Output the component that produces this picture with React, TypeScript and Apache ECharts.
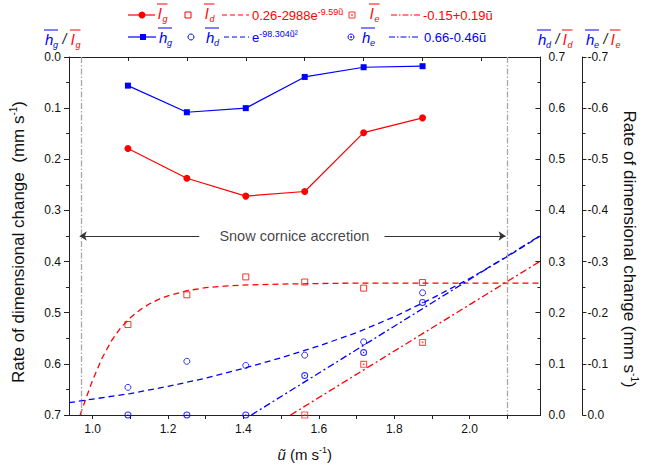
import React, { useEffect, useRef } from 'react';
import * as echarts from 'echarts';

// ---------- data ----------
const uValues = [1.09375, 1.25, 1.40625, 1.5625, 1.71875, 1.875];
const lgValues = [0.179, 0.237, 0.272, 0.263, 0.148, 0.119];
const hgValues = [0.056, 0.108, 0.1, 0.039, 0.02, 0.018];
const ldValues = [0.177, 0.235, 0.27, 0.26, 0.248, 0.259];
const hdValues = [0.054, 0.105, 0.097, 0.117, 0.143, 0.239];
const leU = [1.5625, 1.71875, 1.875];
const leValues = [0, -0.099, -0.142];
const heValues = [0, 0, 0, -0.077, -0.122, -0.22];

const ldFitU = [0.967, 0.975, 1.0, 1.025, 1.05, 1.075, 1.1, 1.125, 1.15, 1.175, 1.2, 1.25, 1.3, 1.35, 1.4, 1.5, 1.6, 1.7, 2.1875];
const ldFitV = [0, 0.017, 0.068, 0.111, 0.145, 0.171, 0.19, 0.205, 0.217, 0.226, 0.233, 0.243, 0.249, 0.252, 0.254, 0.256, 0.257, 0.258, 0.258];
const hdFitU = [0.9375, 1.0, 1.1, 1.2, 1.3, 1.4, 1.5, 1.6, 1.7, 1.8, 1.9, 2.0, 2.1, 2.1875];
const hdFitV = [0.024, 0.031, 0.042, 0.056, 0.072, 0.091, 0.112, 0.135, 0.161, 0.192, 0.228, 0.267, 0.31, 0.35];
const leFitU = [1.525, 2.1875];
const leFitV = [0, -0.301];
const heFitU = [1.421, 2.1875];
const heFitV = [0, -0.351];

const corniceU = [0.966, 2.095];
const arrowY = 0.35;
const arrowLeft = [1.283, 0.966];
const arrowRight = [1.774, 2.095];
const annotationPos = [1.535, 0.35];
const annotationText = 'Snow cornice accretion';

const xTickValues = [1.0, 1.1, 1.2, 1.3, 1.4, 1.5, 1.6, 1.7, 1.8, 1.9, 2.0, 2.1];
const xLabelValues = [1.0, 1.2, 1.4, 1.6, 1.8, 2.0];

const ldFormula = '0.26-2988e{sup|-9.59ũ}';
const leFormula = '-0.15+0.19ũ';
const hdFormula = 'e{sup|-98.304ũ²}';
const heFormula = '0.66-0.46ũ';

// ---------- styles ----------
const FONT = '"Liberation Sans", Arial, Helvetica, sans-serif';
const RED = '#ff0000';
const BLUE = '#0000ff';
const AX = '#222222';
const SQ_DOT = 'path://M0,0H10V10H0Z M1.6,1.6V8.4H8.4V1.6Z M3.8,3.8H6.2V6.2H3.8Z';
const CI_DOT = 'path://M5,0A5,5 0 1,1 5,10A5,5 0 1,1 5,0Z M5,1.5A3.5,3.5 0 1,0 5,8.5A3.5,3.5 0 1,0 5,1.5Z M5,3.9A1.1,1.1 0 1,1 5,6.1A1.1,1.1 0 1,1 5,3.9Z';

const pairs = (xs: number[], ys: number[]) => xs.map((x, i) => [x, ys[i]]);
const fmt1 = (v: number) => (Math.abs(v) < 1e-9 ? '0.0' : v.toFixed(1));

function txt(x: number, y: number, text: string, color: string, size: number, italic = false, extra: any = {}) {
  return {
    type: 'text', x, y, silent: true,
    style: {
      text, fill: color, fontSize: size, fontFamily: FONT, fontStyle: italic ? 'italic' : 'normal',
      align: 'left', verticalAlign: 'middle', textAlign: 'left', textVerticalAlign: 'middle', ...extra,
    },
  };
}
function glyph(x: number, y: number, letter: string, sub: string, color: string) {
  const w = letter === 'h' ? 8 : 4.5;
  return [
    txt(x, y, letter, color, 15, true),
    txt(x + w, y + 6, sub, color, 9, true),
    { type: 'line', silent: true, shape: { x1: x - 1, y1: y - 9, x2: x + w + 5, y2: y - 9 }, style: { stroke: color, lineWidth: 1 } },
  ];
}
function hline(x1: number, x2: number, y: number, color: string, dash: any = null) {
  return { type: 'line', silent: true, shape: { x1, y1: y, x2, y2: y }, style: { stroke: color, lineWidth: 1.2, lineDash: dash } };
}
const richSup = { sup: { fontSize: 9, lineHeight: 9, verticalAlign: 'top' } };

function buildGraphic() {
  const r1 = 15;
  const r2 = 37;
  const els: any[] = [];
  // legend row 1
  els.push(hline(128, 155, r1, RED));
  els.push({ type: 'circle', silent: true, shape: { cx: 142, cy: r1, r: 3.5 }, style: { fill: RED } });
  els.push(...glyph(158, r1 - 2, 'l', 'g', RED));
  els.push({ type: 'rect', silent: true, shape: { x: 185, y: r1 - 3, width: 6, height: 6 }, style: { fill: 'none', stroke: RED, lineWidth: 1 } });
  els.push(...glyph(205, r1 - 2, 'l', 'd', RED));
  els.push(hline(222, 249, r1, RED, [5, 3]));
  els.push(txt(252, r1, ldFormula, RED, 13, false, { rich: richSup, lineHeight: 15 }));
  els.push({ type: 'rect', silent: true, shape: { x: 349, y: r1 - 3, width: 6, height: 6 }, style: { fill: 'none', stroke: '#ff3030', lineWidth: 1 } });
  els.push({ type: 'rect', silent: true, shape: { x: 351.2, y: r1 - 0.8, width: 1.6, height: 1.6 }, style: { fill: '#ff3030' } });
  els.push(...glyph(370, r1 - 2, 'l', 'e', RED));
  els.push(hline(391, 420, r1, RED, [6, 2, 1.5, 2]));
  els.push(txt(423, r1, leFormula, RED, 13));
  // legend row 2
  els.push(hline(128, 156, r2, BLUE));
  els.push({ type: 'rect', silent: true, shape: { x: 140, y: r2 - 3, width: 6, height: 6 }, style: { fill: BLUE } });
  els.push(...glyph(159, r2, 'h', 'g', BLUE));
  els.push({ type: 'circle', silent: true, shape: { cx: 191, cy: r2, r: 3 }, style: { fill: 'none', stroke: BLUE, lineWidth: 1 } });
  els.push(...glyph(206, r2, 'h', 'd', BLUE));
  els.push(hline(224, 249, r2, BLUE, [5, 3]));
  els.push(txt(252, r2, hdFormula, BLUE, 13, false, { rich: richSup, lineHeight: 15 }));
  els.push({ type: 'circle', silent: true, shape: { cx: 351, cy: r2, r: 3 }, style: { fill: 'none', stroke: BLUE, lineWidth: 1 } });
  els.push({ type: 'circle', silent: true, shape: { cx: 351, cy: r2, r: 0.9 }, style: { fill: BLUE } });
  els.push(...glyph(362, r2, 'h', 'e', BLUE));
  els.push(hline(389, 420, r2, BLUE, [6, 2, 1.5, 2]));
  els.push(txt(424, r2, heFormula, BLUE, 13));
  // axis header labels
  const ay = 39;
  els.push(...glyph(45, ay, 'h', 'g', BLUE));
  els.push(txt(62.5, ay, '/', '#111', 14, true));
  els.push(...glyph(71, ay, 'l', 'g', RED));
  els.push(...glyph(538, ay, 'h', 'd', BLUE));
  els.push(txt(555.5, ay, '/', '#111', 14, true));
  els.push(...glyph(563, ay, 'l', 'd', RED));
  els.push(...glyph(586, ay, 'h', 'e', BLUE));
  els.push(txt(603.5, ay, '/', '#111', 14, true));
  els.push(...glyph(611, ay, 'l', 'e', RED));
  return els;
}

const fitLine = (name: string, xs: number[], ys: number[], yIdx: number, color: string, dash: any) => ({
  name, type: 'line', xAxisIndex: 0, yAxisIndex: yIdx, data: pairs(xs, ys), symbol: 'none', showSymbol: false,
  smooth: false, lineStyle: { color, width: 1.3, type: dash }, z: 2, silent: true,
});

const axisNameStyle = (pad: number[]) => ({
  fontSize: 17, color: '#111', fontFamily: FONT, lineHeight: 20, padding: pad,
  rich: { sup: { fontSize: 10, lineHeight: 10, verticalAlign: 'top' } },
});

export default function App() {
  const ref = useRef<HTMLDivElement>(null);
  useEffect(() => {
    document.body.style.margin = '0';
    const chart = echarts.init(ref.current!, null, { renderer: 'svg' });
    const yCommon = {
      type: 'value', min: 0, max: 0.7, interval: 0.1,
      axisLine: { show: true, onZero: false, lineStyle: { color: AX, width: 1 } },
      axisTick: { show: true, length: 5, lineStyle: { color: AX } },
      minorTick: { show: true, splitNumber: 2, length: 3, lineStyle: { color: AX } },
      axisLabel: { formatter: fmt1, fontSize: 12, color: '#111', fontFamily: FONT, margin: 8 },
      splitLine: { show: false },
    };
    chart.setOption({
      animation: false,
      textStyle: { fontFamily: FONT },
      grid: { left: 66, right: 103, top: 57, bottom: 52, containLabel: false },
      xAxis: [
        {
          type: 'value', min: 0.9375, max: 2.1875, position: 'bottom',
          axisLine: { onZero: false, lineStyle: { color: AX, width: 1 } },
          axisTick: { show: true, length: 4, customValues: xTickValues, lineStyle: { color: AX } },
          axisLabel: { customValues: xLabelValues, formatter: fmt1, fontSize: 12, color: '#111', fontFamily: FONT, margin: 8 },
          splitLine: { show: false },
          name: '{i|ũ} (m s{sup|-1})', nameLocation: 'middle', nameGap: 30,
          nameTextStyle: { fontSize: 15, color: '#111', fontFamily: FONT, lineHeight: 18, rich: { i: { fontStyle: 'italic', fontSize: 15 }, sup: { fontSize: 9, lineHeight: 9, verticalAlign: 'top' } } },
        },
        {
          type: 'value', min: 0.9375, max: 2.1875, interval: 0.15625, position: 'top',
          axisLine: { onZero: false, lineStyle: { color: AX, width: 1 } },
          axisTick: { show: true, inside: true, length: 4, lineStyle: { color: AX } },
          axisLabel: { show: false }, splitLine: { show: false },
        },
      ],
      yAxis: [
        {
          ...yCommon, position: 'left', inverse: true,
          name: 'Rate of dimensional change  (mm s{sup|-1})', nameLocation: 'middle', nameGap: 41, nameRotate: 90,
          nameTextStyle: axisNameStyle([0, 12, 0, 0]),
        },
        {
          ...yCommon, position: 'right', offset: 0,
          axisTick: { show: true, inside: true, length: 5, lineStyle: { color: AX } },
          minorTick: { show: true, splitNumber: 2, length: 3, lineStyle: { color: AX } },
        },
        {
          ...yCommon, position: 'right', offset: 42, min: -0.7, max: 0, inverse: true,
          axisTick: { show: true, length: 4, lineStyle: { color: AX } },
          axisLabel: { formatter: fmt1, fontSize: 12, color: '#111', fontFamily: FONT, margin: 5 },
          name: 'Rate of dimensional change (mm s{sup|-1})', nameLocation: 'middle', nameGap: 35, nameRotate: -90,
          nameTextStyle: axisNameStyle([0, 0, 0, 26]),
        },
      ],
      graphic: { elements: buildGraphic() },
      series: [
        fitLine('ldFit', ldFitU, ldFitV, 1, RED, [6, 4]),
        fitLine('hdFit', hdFitU, hdFitV, 1, BLUE, [6, 4]),
        fitLine('leFit', leFitU, leFitV, 2, RED, [7, 3, 2, 3]),
        fitLine('heFit', heFitU, heFitV, 2, BLUE, [7, 3, 2, 3]),
        {
          name: 'lg', type: 'line', xAxisIndex: 0, yAxisIndex: 0, data: pairs(uValues, lgValues),
          symbol: 'circle', symbolSize: 7, itemStyle: { color: RED }, lineStyle: { color: RED, width: 1.2 }, z: 5,
          markLine: {
            silent: true, symbol: 'none', label: { show: false }, animation: false,
            lineStyle: { color: '#a8a8a8', width: 1.3, type: [6, 2, 1.5, 2] },
            data: corniceU.map((u) => ({ xAxis: u })),
          },
        },
        {
          name: 'hg', type: 'line', xAxisIndex: 0, yAxisIndex: 0, data: pairs(uValues, hgValues),
          symbol: 'rect', symbolSize: 6, itemStyle: { color: BLUE }, lineStyle: { color: BLUE, width: 1.2 }, z: 5,
          markLine: {
            silent: true, symbolSize: 7, label: { show: false }, animation: false,
            lineStyle: { color: '#333', width: 1, type: 'solid' },
            data: [
              [{ coord: [arrowLeft[0], arrowY], symbol: 'none' }, { coord: [arrowLeft[1], arrowY], symbol: 'arrow' }],
              [{ coord: [arrowRight[0], arrowY], symbol: 'none' }, { coord: [arrowRight[1], arrowY], symbol: 'arrow' }],
            ],
          },
        },
        {
          name: 'ld', type: 'scatter', xAxisIndex: 0, yAxisIndex: 1, data: pairs(uValues, ldValues),
          symbol: 'rect', symbolSize: 6, itemStyle: { color: 'rgba(0,0,0,0)', borderColor: RED, borderWidth: 1 }, z: 4,
        },
        {
          name: 'le', type: 'scatter', xAxisIndex: 0, yAxisIndex: 2, data: pairs(leU, leValues),
          symbol: SQ_DOT, symbolSize: 7, itemStyle: { color: '#ff3030' }, z: 4,
        },
        {
          name: 'hd', type: 'scatter', xAxisIndex: 0, yAxisIndex: 1, data: pairs(uValues, hdValues),
          symbol: 'circle', symbolSize: 6, itemStyle: { color: 'rgba(0,0,0,0)', borderColor: BLUE, borderWidth: 1 }, z: 4,
        },
        {
          name: 'he', type: 'scatter', xAxisIndex: 0, yAxisIndex: 2, data: pairs(uValues, heValues),
          symbol: CI_DOT, symbolSize: 7, itemStyle: { color: BLUE }, z: 4,
        },
        {
          name: 'annotation', type: 'scatter', xAxisIndex: 0, yAxisIndex: 0, data: [annotationPos],
          symbolSize: 0, silent: true, z: 6,
          label: { show: true, position: 'inside', formatter: annotationText, fontSize: 14.5, color: '#111', fontFamily: FONT },
        },
      ],
    });
    return () => chart.dispose();
  }, []);
  return <div ref={ref} style={{ width: 647, height: 468 }} />;
}
